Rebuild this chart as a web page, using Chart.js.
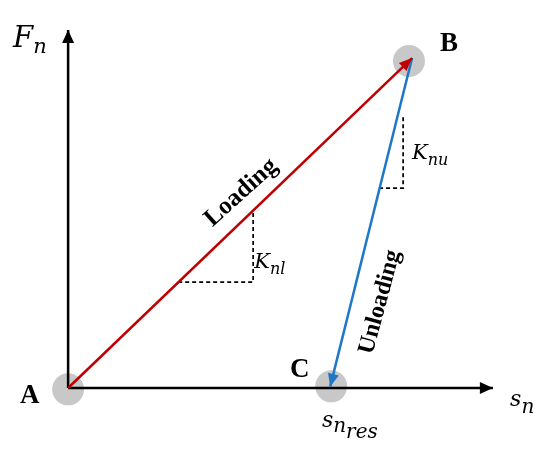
<!DOCTYPE html>
<html>
<head>
<meta charset="utf-8">
<script src="https://cdn.jsdelivr.net/npm/chart.js@4"></script>
<style>
  html, body { margin: 0; padding: 0; background: #fff; }
  #wrap { width: 550px; height: 452px; }
</style>
</head>
<body>
<div id="wrap"><canvas id="chart" width="550" height="452"></canvas></div>
<script>
// all points in (s_n, F_n) units, A sits at the origin, B at (10, 10)
const xAxisPts = [[0, 0], [12.35, 0]];
const yAxisPts = [[0, 0], [0, 10.85]];
const loadingPts = [[0, 0], [10, 10]];
const unloadingPts = [[10, 10], [7.62, 0.04]];
const loadSlopePts = [[3.2, 3.21], [5.38, 3.21], [5.38, 5.38]];
const unloadSlopePts = [[9.04, 6.06], [9.74, 6.06], [9.74, 8.21]];
const statePts = [[0, -0.04], [9.91, 9.91], [7.65, 0.05]]; // A, B, C

const serifIt = '"DejaVu Serif"';
const serifBold = '"Liberation Serif"';

// text labels, anchored in data units
const textLabels = [
  { at: [-1.6, 10.33], parts: [['F', 'italic 29px', 0], ['n', 'italic 21px', 6]] },
  { at: [10.81, 10.21], parts: [['B', 'bold 27px', 0]], bold: true },
  { at: [-1.40, -0.45], parts: [['A', 'bold 27px', 0]], bold: true },
  { at: [6.45, 0.33], parts: [['C', 'bold 27px', 0]], bold: true },
  { at: [12.85, -0.55], parts: [['s', 'italic 22px', 0], ['n', 'italic 20px', 7]] },
  { at: [7.38, -1.18], parts: [['s', 'italic 22px', 0], ['n', 'italic 20px', 5], ['res', 'italic 20px', 11]] },
  { at: [5.41, 3.64], parts: [['K', 'italic 21px', 0], ['nl', 'italic 16px', 6]] },
  { at: [10.0, 6.94], parts: [['K', 'italic 21px', 0], ['nu', 'italic 16px', 6]] },
  { at: [5.03, 5.92], parts: [['Loading', 'bold 25px', 0]], bold: true, rot: -42, center: true },
  { at: [9.07, 2.6], parts: [['Unloading', 'bold 24px', 0]], bold: true, rot: -75, center: true }
];

const toXY = arr => arr.map(p => ({ x: p[0], y: p[1] }));

const arrowPlugin = {
  id: 'arrows',
  afterDatasetsDraw(chart) {
    const ctx = chart.ctx;
    chart.data.datasets.forEach((ds, i) => {
      if (!ds.arrow) return;
      const pts = chart.getDatasetMeta(i).data;
      const a = pts[pts.length - 2], b = pts[pts.length - 1];
      const ang = Math.atan2(b.y - a.y, b.x - a.x);
      const len = ds.arrow.len, hw = ds.arrow.hw;
      ctx.save();
      ctx.translate(b.x, b.y);
      ctx.rotate(ang);
      ctx.beginPath();
      ctx.moveTo(0, 0);
      ctx.lineTo(-len, -hw);
      ctx.lineTo(-len, hw);
      ctx.closePath();
      ctx.fillStyle = ds.borderColor;
      ctx.fill();
      ctx.restore();
    });
  }
};

const labelPlugin = {
  id: 'labels',
  afterDatasetsDraw(chart) {
    const { ctx, scales } = chart;
    textLabels.forEach(l => {
      const px = scales.x.getPixelForValue(l.at[0]);
      const py = scales.y.getPixelForValue(l.at[1]);
      const fam = l.bold ? serifBold : serifIt;
      ctx.save();
      ctx.fillStyle = '#000';
      ctx.textBaseline = 'alphabetic';
      ctx.translate(px, py);
      if (l.rot) ctx.rotate(l.rot * Math.PI / 180);
      if (l.center) {
        ctx.font = l.parts[0][1] + ' ' + fam;
        ctx.textAlign = 'center';
        ctx.textBaseline = 'middle';
        ctx.fillText(l.parts[0][0], 0, 0);
      } else {
        let cx = 0;
        l.parts.forEach(([t, f, dy]) => {
          ctx.font = f + ' ' + fam;
          ctx.fillText(t, cx, dy);
          cx += ctx.measureText(t).width;
        });
      }
      ctx.restore();
    });
  }
};

const dashed = (pts) => ({
  data: toXY(pts), showLine: true, borderColor: '#000', borderWidth: 1.7,
  borderDash: [4, 3], pointRadius: 0, order: 2
});

new Chart(document.getElementById('chart'), {
  type: 'scatter',
  data: {
    datasets: [
      { data: toXY(statePts), backgroundColor: '#c8c8c8', borderWidth: 0,
        pointRadius: 16, pointHoverRadius: 16, order: 10 },
      { data: toXY(xAxisPts), showLine: true, borderColor: '#000', borderWidth: 2.5,
        pointRadius: 0, order: 5, arrow: { len: 13, hw: 6 } },
      { data: toXY(yAxisPts), showLine: true, borderColor: '#000', borderWidth: 2.5,
        pointRadius: 0, order: 5, arrow: { len: 13, hw: 6 } },
      dashed(loadSlopePts),
      dashed(unloadSlopePts),
      { data: toXY(loadingPts), showLine: true, borderColor: '#c00000', borderWidth: 2.5,
        pointRadius: 0, order: 1, arrow: { len: 13, hw: 5.5 } },
      { data: toXY(unloadingPts), showLine: true, borderColor: '#1f77c8', borderWidth: 2.5,
        pointRadius: 0, order: 1, arrow: { len: 13, hw: 5.5 } }
    ]
  },
  options: {
    responsive: false,
    animation: false,
    clip: false,
    layout: { padding: 0, autoPadding: false },
    plugins: { legend: { display: false }, tooltip: { enabled: false } },
    scales: {
      x: { type: 'linear', display: false, min: -1.98, max: 14.01 },
      y: { type: 'linear', display: false, min: -1.94, max: 11.76 }
    }
  },
  plugins: [arrowPlugin, labelPlugin]
});
</script>
</body>
</html>
